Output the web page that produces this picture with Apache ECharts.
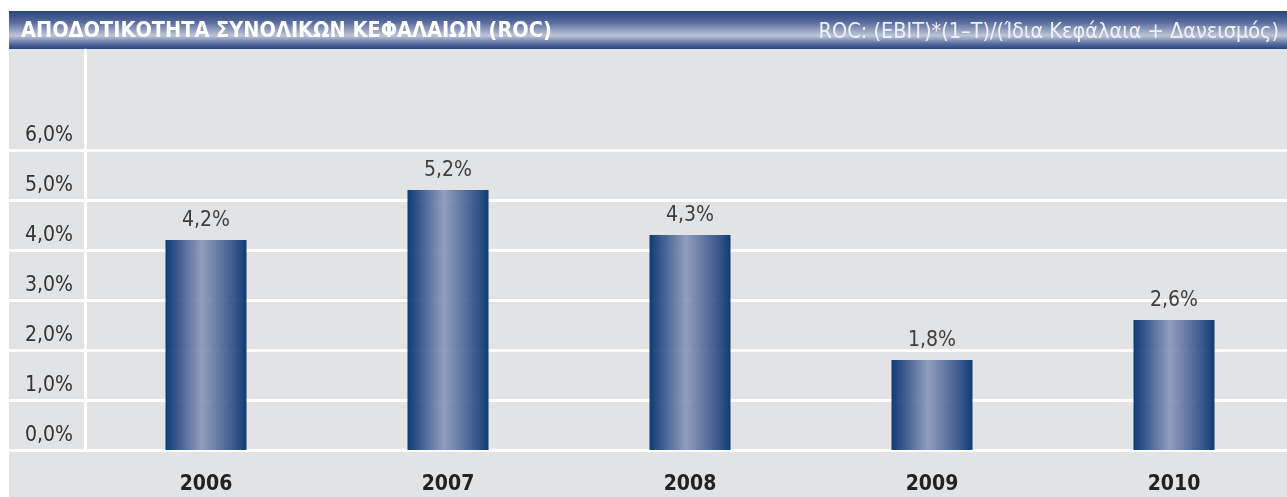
<!DOCTYPE html>
<html><head><meta charset="utf-8">
<script src="https://cdn.jsdelivr.net/npm/echarts@6/dist/echarts.min.js"></script>
<style>html,body{margin:0;padding:0;background:#fff}#c{width:1287px;height:497px}</style>
</head><body><div id="c"></div>
<script>
const categories = ['2006','2007','2008','2009','2010'];
const rocValues = [4.2, 5.2, 4.3, 1.8, 2.6];
const yTickValues = [0,1,2,3,4,5,6];
const titleText = 'ΑΠΟΔΟΤΙΚΟΤΗΤΑ ΣΥΝΟΛΙΚΩΝ ΚΕΦΑΛΑΙΩΝ (ROC)';
const formulaText = 'ROC: (EBIT)*(1–T)/(Ίδια Κεφάλαια + Δανεισμός)';

const FONT = '"DejaVu Sans Condensed","Liberation Sans Narrow",sans-serif';
const fmt = v => v.toFixed(1).replace('.', ',') + '%';
const yMax = 8;
const lineColors = [];
for (let i = 0; i <= yMax; i++) lineColors.push(yTickValues.indexOf(i) >= 0 ? '#ffffff' : 'rgba(0,0,0,0)');

const chart = echarts.init(document.getElementById('c'));
chart.setOption({
  animation: false,
  backgroundColor: '#ffffff',
  graphic: [
    { type: 'rect', left: 9, top: 49, shape: { width: 1278, height: 448 }, style: { fill: '#e2e3e5' }, z: -10 },
    { type: 'rect', left: 9, top: 11, shape: { width: 1278, height: 38 },
      style: { fill: new echarts.graphic.LinearGradient(0, 0, 0, 1, [
        { offset: 0, color: '#27457f' },
        { offset: 0.3, color: '#596c9d' },
        { offset: 0.65, color: '#bfc5d7' },
        { offset: 0.88, color: '#50659a' },
        { offset: 1, color: '#27457f' }
      ]) }, z: -10 }
  ],
  title: [
    { text: titleText, left: 16, top: 15,
      textStyle: { fontFamily: FONT, fontSize: 21.5, fontWeight: 'bold', color: '#ffffff' } },
    { text: formulaText, right: 3, top: 16,
      textStyle: { fontFamily: FONT, fontSize: 21.5, fontWeight: 'normal', color: '#eef1f7' } }
  ],
  grid: [
    { left: 85, width: 1210, top: 50, bottom: 47, outerBoundsMode: 'none', containLabel: false },
    { left: 9, width: 76, top: 50, bottom: 47, outerBoundsMode: 'none', containLabel: false }
  ],
  xAxis: [
    { type: 'category', gridIndex: 0, data: categories,
      axisLine: { show: false }, axisTick: { show: false },
      axisLabel: { margin: 24, fontFamily: FONT, fontSize: 21, fontWeight: 'bold', color: '#222222' } },
    { type: 'category', gridIndex: 1, data: [''], show: false }
  ],
  yAxis: [
    { type: 'value', gridIndex: 0, min: 0, max: yMax, interval: 1,
      axisLine: { show: true, lineStyle: { color: '#ffffff', width: 3 } },
      axisTick: { show: false },
      splitLine: { show: true, lineStyle: { color: lineColors, width: 3 } },
      axisLabel: { margin: 12, fontFamily: FONT, fontSize: 21, color: '#333333',
        verticalAlign: 'bottom', padding: [0, 0, 4, 0],
        formatter: v => (yTickValues.indexOf(v) >= 0 ? fmt(v) : '') } },
    { type: 'value', gridIndex: 1, min: 0, max: yMax, interval: 1,
      axisLine: { show: false }, axisTick: { show: false }, axisLabel: { show: false },
      splitLine: { show: true, lineStyle: { color: lineColors, width: 3 } } }
  ],
  series: [{
    type: 'bar', xAxisIndex: 0, yAxisIndex: 0, data: rocValues, barWidth: 81,
    itemStyle: { opacity: 0.94, color: new echarts.graphic.LinearGradient(0, 0, 1, 0, [
      { offset: 0, color: '#01316d' },
      { offset: 0.12, color: '#274a83' },
      { offset: 0.45, color: '#8d99bb' },
      { offset: 0.85, color: '#2f4f86' },
      { offset: 1, color: '#01316d' }
    ]) },
    label: { show: true, position: 'top', distance: 9, fontFamily: FONT, fontSize: 21,
      color: '#333333', formatter: p => fmt(p.value) }
  }]
});
</script></body></html>
